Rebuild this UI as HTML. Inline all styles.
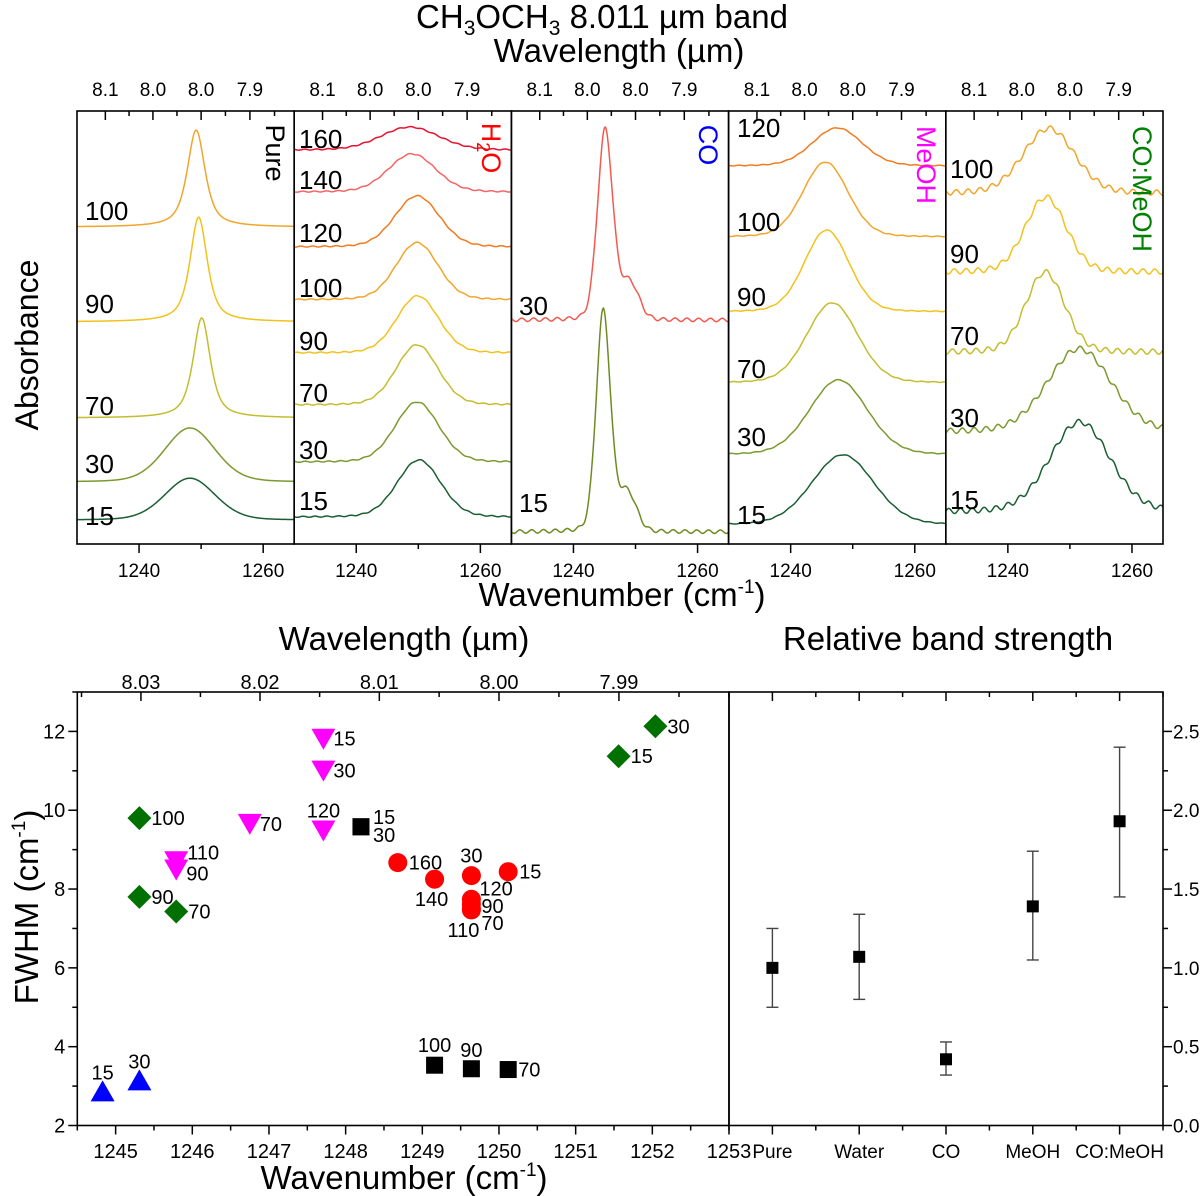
<!DOCTYPE html>
<html><head><meta charset="utf-8">
<style>
html,body{margin:0;padding:0;background:#fff;}
svg{display:block;font-family:"Liberation Sans",Arial,sans-serif;}
</style></head>
<body>
<svg id="fig" xmlns="http://www.w3.org/2000/svg" width="1200" height="1196" viewBox="0 0 1200 1196">
<rect x="0" y="0" width="1200" height="1196" fill="#fff"/>
<text x="602" y="28" font-size="33" text-anchor="middle">CH<tspan font-size="21" dy="7">3</tspan><tspan dy="-7">OCH</tspan><tspan font-size="21" dy="7">3</tspan><tspan dy="-7"> 8.011 µm band</tspan></text>
<text x="619" y="62" font-size="33" text-anchor="middle">Wavelength (µm)</text>
<text x="622" y="606" font-size="33" text-anchor="middle">Wavenumber (cm<tspan font-size="19" dy="-13">-1</tspan><tspan dy="13">)</tspan></text>
<text transform="translate(38,345) rotate(-90)" font-size="32" text-anchor="middle">Absorbance</text>
<text x="404" y="650" font-size="33" text-anchor="middle">Wavelength (µm)</text>
<text x="948" y="650" font-size="33" text-anchor="middle">Relative band strength</text>
<text x="404" y="1189" font-size="33" text-anchor="middle">Wavenumber (cm<tspan font-size="19" dy="-13">-1</tspan><tspan dy="13">)</tspan></text>
<text transform="translate(38,907) rotate(-90)" font-size="33" text-anchor="middle">FWHM (cm<tspan font-size="19" dy="-13">-1</tspan><tspan dy="13">)</tspan></text>
<g id="topPanels"></g>
<g id="bottomPanels"></g>
</svg>
<script>
// ---------- top spectra data ----------
const panelNames = ["Pure", "H2O", "CO", "MeOH", "CO:MeOH"];
const panelLabelColors = ["#000000", "#ff0000", "#0000ff", "#ff00ff", "#008000"];
const wnMin = 1230, wnMax = 1265;
const topTickWn = [1240, 1260];
const topMinorWn = [1250];
const wlMajor = [8.1, 8.05, 8.0, 7.95];
const wlMajorLabels = ["8.1", "8.0", "8.0", "7.9"];
const wlMinor = [8.075, 8.025, 7.975, 7.925];
const pureTemps = ["100", "90", "70", "30", "15"];
const pureBase = [0.732, 0.513, 0.291, 0.143, 0.055];
const pureAmp = [0.224, 0.242, 0.231, 0.125, 0.097];
const pureCenter = [1249.2, 1249.6, 1250.1, 1248.2, 1248.2];
const pureFwhm = [3.4, 3.3, 3.3, 9.6, 9.6];
const pureEta = [0.7, 0.7, 0.7, 0.2, 0.2];
const h2oTemps = ["160", "140", "120", "100", "90", "70", "30", "15"];
const h2oBase = [0.910, 0.813, 0.686, 0.564, 0.441, 0.321, 0.189, 0.062];
const h2oAmp = [0.053, 0.088, 0.118, 0.132, 0.132, 0.139, 0.139, 0.132];
const h2oCenter = [1248.6, 1249.0, 1249.8, 1249.8, 1249.9, 1249.8, 1249.8, 1250.1];
const h2oFwhm = [11, 9, 8.5, 8, 8, 8, 8.3, 8.3];
const coTemps = ["30", "15"];
const coBase = [0.517, 0.028];
const coAmp = [0.44, 0.51];
const coCenter = [1245.1, 1244.8];
const coFwhm = [2.9, 2.7];
const coShoulderAmp = [0.085, 0.09];
const coShoulderCenter = [1249.0, 1248.6];
const meohTemps = ["120", "100", "90", "70", "30", "15"];
const meohBase = [0.873, 0.709, 0.536, 0.372, 0.206, 0.044];
const meohAmp = [0.088, 0.173, 0.189, 0.185, 0.173, 0.162];
const meohCenter = [1247.5, 1245.6, 1245.8, 1246.7, 1247.7, 1248.4];
const meohFwhm = [9.5, 8.6, 8.5, 9.7, 11, 11.8];
const comTemps = ["100", "90", "70", "30", "15"];
const comBase = [0.810, 0.628, 0.443, 0.259, 0.074];
const comAmp = [0.150, 0.173, 0.185, 0.192, 0.208];
const comCenter = [1246.6, 1246.1, 1246.0, 1251.5, 1251.6];
const comFwhm = [9.8, 7.8, 7.4, 12.1, 11.4];

// ---------- bottom data ----------
const pureWn = [1248.2, 1248.2, 1249.16, 1249.64, 1250.12];
const pureFw = [9.58, 9.58, 3.53, 3.44, 3.42];
const pureLbl = ["15", "30", "100", "90", "70"];
const waterWn = [1248.68, 1249.16, 1249.64, 1250.12, 1249.64, 1249.64, 1249.64, 1249.64];
const waterFw = [8.67, 8.25, 8.34, 8.44, 7.74, 7.62, 7.47, 7.5];
const waterLbl = ["160", "140", "30", "15", "120", "90", "70", "110"];
const coWn = [1244.83, 1245.31];
const coFw = [2.84, 3.12];
const coLbl = ["15", "30"];
const meWn = [1247.71, 1247.71, 1246.75, 1247.71, 1245.79, 1245.79];
const meFw = [11.84, 11.03, 9.68, 9.51, 8.73, 8.52];
const meLbl = ["15", "30", "70", "120", "110", "90"];
const cmWn = [1245.31, 1245.31, 1245.79, 1251.56, 1252.04];
const cmFw = [9.8, 7.8, 7.43, 11.37, 12.13];
const cmLbl = ["100", "90", "70", "15", "30"];
const bxMajor = [1245, 1246, 1247, 1248, 1249, 1250, 1251, 1252, 1253];
const byMajor = [2, 4, 6, 8, 10, 12];
const bwlMajor = [8.03, 8.02, 8.01, 8.00, 7.99];
const bwlLabels = ["8.03", "8.02", "8.01", "8.00", "7.99"];
const categories = ["Pure", "Water", "CO", "MeOH", "CO:MeOH"];
const strength = [1.0, 1.07, 0.42, 1.39, 1.93];
const strengthLo = [0.75, 0.80, 0.32, 1.05, 1.45];
const strengthHi = [1.25, 1.34, 0.53, 1.74, 2.40];
const rTicks = [0.0, 0.5, 1.0, 1.5, 2.0, 2.5];
const rTickLabels = ["0.0", "0.5", "1.0", "1.5", "2.0", "2.5"];

// ---------- helpers ----------
const NS = "http://www.w3.org/2000/svg";
function mk(tag, attrs, parent, name) {
  const el = document.createElementNS(NS, tag);
  for (const k in attrs) el.setAttribute(k, attrs[k]);
  
  
  parent.appendChild(el);
  return el;
}
function txt(x, y, s, size, parent, name, anchor, fill) {
  const t = mk("text", {x: x, y: y, "font-size": size, "text-anchor": anchor || "start", fill: fill || "#000"}, parent, name);
  t.textContent = s;
  return t;
}
function ln(x1, y1, x2, y2, parent, name, w, col) {
  return mk("line", {x1: x1, y1: y1, x2: x2, y2: y2, stroke: col || "#000", "stroke-width": w || 1.5}, parent, name);
}

// ---------- top panels ----------
const topG = document.getElementById("topPanels");
const pTop = 111, pBot = 544, pw = 217.2, pL0 = 77;
function pLeft(i) { return pL0 + i * pw; }
function xw(i, wn) { return pLeft(i) + (wn - wnMin) / (wnMax - wnMin) * pw; }
function ya(a) { return pBot - a * (pBot - pTop); }
function pv(wn, c, f, eta) {
  const d = (wn - c) / (f / 2);
  return eta / (1 + d * d) + (1 - eta) * Math.exp(-Math.LN2 * d * d);
}
const tempColors = {"160": "#e8112d", "140": "#f46565", "120": "#f47a20", "110": "#f5a623", "100": "#f2a52a", "90": "#f2c21c", "70": "#c4bd2e", "30": "#7b9a2e", "15": "#1b5e32"};
const panelDefs = [
  {temps: pureTemps, base: pureBase, amp: pureAmp, c: pureCenter, f: pureFwhm, eta: pureEta, noise: 0, lblX: 85, lblY: [220, 313, 415, 473, 525]},
  {temps: h2oTemps, base: h2oBase, amp: h2oAmp, c: h2oCenter, f: h2oFwhm, noise: 0.0012, lblX: 299, lblY: [148, 189, 242, 297, 350, 402, 459, 510]},
  {temps: coTemps, base: coBase, amp: coAmp, c: coCenter, f: coFwhm, noise: 0.004, sa: coShoulderAmp, sc: coShoulderCenter, lblX: 519, lblY: [315, 512]},
  {temps: meohTemps, base: meohBase, amp: meohAmp, c: meohCenter, f: meohFwhm, noise: 0.0008, lblX: 737, lblY: [137, 231, 306, 378, 446, 524]},
  {temps: comTemps, base: comBase, amp: comAmp, c: comCenter, f: comFwhm, noise: 0.006, lblX: 950, lblY: [178, 263, 345, 427, 509]}
];
const coColors = ["#f25a4f", "#6e8b23"];
const labelPos = [[266, 153], [482, 148], [699, 145], [917, 165], [1133, 189]];
panelDefs.forEach((P, i) => {
  const L = pLeft(i);
  const g = mk("g", {}, topG, "panel-" + panelNames[i].toLowerCase().replace(":", "-"));
  P.temps.forEach((t, k) => {
    let d = "";
    for (let wn = wnMin; wn <= wnMax + 1e-6; wn += 0.15) {
      let a = P.base[k] + P.amp[k] * pv(wn, P.c[k], P.f[k], P.eta ? P.eta[k] : 0.15);
      if (P.sa) a += P.sa[k] * pv(wn, P.sc[k], 3.5, 0);
      a += P.noise * Math.sin(wn * 2 * Math.PI / 1.9 + k);
      d += (d ? "L" : "M") + xw(i, wn).toFixed(2) + "," + ya(a).toFixed(2);
    }
    const col = i === 2 ? coColors[k] : tempColors[t];
    mk("path", {d: d, fill: "none", stroke: col, "stroke-width": 1.5}, g, "spectrum-" + t + "K");
    txt(P.lblX, P.lblY[k], t, 26, g, "temp-label-" + t, "start");
  });
  mk("rect", {x: L, y: pTop, width: pw, height: pBot - pTop, fill: "none", stroke: "#000", "stroke-width": 1.6}, g, "panel-frame");
  topTickWn.forEach(w => {
    ln(xw(i, w), pBot, xw(i, w), pBot + 9, g, "x-tick");
    txt(xw(i, w), 577, String(w), 19, g, "x-tick-label", "middle");
  });
  topMinorWn.forEach(w => { ln(xw(i, w), pBot, xw(i, w), pBot + 5, g, "x-minor-tick"); });
  wlMajor.forEach((wl, k) => {
    const x = xw(i, 10000 / wl);
    ln(x, pTop, x, pTop + 9, g, "wavelength-tick");
    txt(x, 96, wlMajorLabels[k], 19, g, "wavelength-tick-label", "middle");
  });
  wlMinor.forEach(wl => { const x = xw(i, 10000 / wl); ln(x, pTop, x, pTop + 5, g, "wavelength-minor-tick"); });
  const lp = labelPos[i];
  const lt = mk("text", {transform: "translate(" + lp[0] + "," + lp[1] + ") rotate(90)", "font-size": 27, "text-anchor": "middle", fill: panelLabelColors[i]}, g, "panel-label");
  if (i === 1) {
    lt.innerHTML = 'H<tspan font-size="18" dy="5">2</tspan><tspan dy="-5">O</tspan>';
  } else {
    lt.textContent = panelNames[i];
  }
});

// ---------- bottom left scatter ----------
const botG = document.getElementById("bottomPanels");
const bL = 77.3, bR = 729, bT = 692, bB = 1125.5;
const bxMin = 1244.5, bxMax = 1253, byMin = 2, byMax = 13;
function bx(w) { return bL + (w - bxMin) / (bxMax - bxMin) * (bR - bL); }
function by(f) { return bB - (f - byMin) / (byMax - byMin) * (bB - bT); }
const gs = mk("g", {}, botG, "fwhm-scatter");
mk("rect", {x: bL, y: bT, width: bR - bL, height: bB - bT, fill: "none", stroke: "#000", "stroke-width": 1.6}, gs, "scatter-frame");
bxMajor.forEach(w => {
  ln(bx(w), bB, bx(w), bB + 9, gs, "x-tick");
  txt(bx(w), 1158, String(w), 20, gs, "x-tick-label", "middle");
});
for (let w = bxMin; w < bxMax; w += 1) { ln(bx(w), bB, bx(w), bB + 5, gs, "x-minor-tick"); }
byMajor.forEach(f => {
  ln(bL - 9, by(f), bL, by(f), gs, "y-tick");
  txt(bL - 12, by(f) + 7, String(f), 20, gs, "y-tick-label", "end");
});
for (let f = 3; f <= 13; f += 2) { ln(bL - 5, by(f), bL, by(f), gs, "y-minor-tick"); }
bwlMajor.forEach((wl, k) => {
  const x = bx(10000 / wl);
  ln(x, bT, x, bT + 9, gs, "wavelength-tick");
  txt(x, 689, bwlLabels[k], 20, gs, "wavelength-tick-label", "middle");
});
[8.035, 8.025, 8.015, 8.005, 7.995, 7.985].forEach(wl => { const x = bx(10000 / wl); ln(x, bT, x, bT + 5, gs, "wavelength-minor-tick"); });

function marker(kind, x, y, parent, name) {
  let el;
  if (kind === "square") el = mk("rect", {x: x - 8.5, y: y - 8.5, width: 17, height: 17, fill: "#000"}, parent, name);
  else if (kind === "circle") el = mk("circle", {cx: x, cy: y, r: 9.5, fill: "#ff0000"}, parent, name);
  else if (kind === "diamond") el = mk("polygon", {points: [x, y - 12, x + 12, y, x, y + 12, x - 12, y].join(" "), fill: "#007000"}, parent, name);
  else if (kind === "up") el = mk("polygon", {points: [x - 12, y + 9, x + 12, y + 9, x, y - 12].join(" "), fill: "#0000ff"}, parent, name);
  else el = mk("polygon", {points: [x - 12, y - 9, x + 12, y - 9, x, y + 12].join(" "), fill: "#ff00ff"}, parent, name);
  return el;
}
const pureOff = [[12, -3, "start"], [12, 15, "start"], [0, -13, "middle"], [0, -12, "middle"], [10, 7, "start"]];
const waterOff = [[11, 7, "start"], [-3, 27, "middle"], [0, -13, "middle"], [11, 7, "start"], [8, -4, "start"], [10, 9, "start"], [10, 20, "start"], [-8, 28, "middle"]];
const coOff = [[0, -13, "middle"], [0, -13, "middle"]];
const meOff = [[10, 8, "start"], [10, 8, "start"], [10, 8, "start"], [0, -12, "middle"], [11, -1, "start"], [10, 12, "start"]];
const cmOff = [[12, 7, "start"], [12, 7, "start"], [12, 7, "start"], [12, 7, "start"], [12, 7, "start"]];
const seriesDefs = [
  {kind: "diamond", wn: cmWn, fw: cmFw, lbl: cmLbl, off: cmOff, name: "co-meoh"},
  {kind: "down", wn: meWn, fw: meFw, lbl: meLbl, off: meOff, name: "meoh"},
  {kind: "circle", wn: waterWn, fw: waterFw, lbl: waterLbl, off: waterOff, name: "water"},
  {kind: "square", wn: pureWn, fw: pureFw, lbl: pureLbl, off: pureOff, name: "pure"},
  {kind: "up", wn: coWn, fw: coFw, lbl: coLbl, off: coOff, name: "co"}
];
seriesDefs.forEach(S => {
  const g = mk("g", {}, gs, "series-" + S.name);
  S.wn.forEach((w, k) => {
    const x = bx(w), y = by(S.fw[k]);
    marker(S.kind, x, y, g, S.name + "-point-" + S.lbl[k]);
    const o = S.off[k];
    txt(x + o[0], y + o[1], S.lbl[k], 20, g, S.name + "-label-" + S.lbl[k], o[2]);
  });
});

// ---------- bottom right strength ----------
const rL = 729, rR = 1163;
const cw = (rR - rL) / categories.length;
function rx(i) { return rL + (i + 0.5) * cw; }
function ry(v) { return bB - v / 2.75 * (bB - bT); }
const gr = mk("g", {}, botG, "band-strength-plot");
mk("rect", {x: rL, y: bT, width: rR - rL, height: bB - bT, fill: "none", stroke: "#000", "stroke-width": 1.6}, gr, "strength-frame");
categories.forEach((c, i) => {
  ln(rx(i), bB, rx(i), bB + 9, gr, "category-tick");
  ln(rx(i), bT, rx(i), bT + 9, gr, "category-top-tick");
  txt(rx(i), 1158, c, 19, gr, "category-label", "middle");
});
for (let k = 0; k <= categories.length; k++) {
  const x = rL + k * cw;
  ln(x, bB, x, bB + 5, gr, "category-minor-tick");
  ln(x, bT, x, bT + 5, gr, "category-top-minor-tick");
}
rTicks.forEach((v, k) => {
  ln(rR, ry(v), rR + 9, ry(v), gr, "right-y-tick");
  txt(rR + 10, ry(v) + 7, rTickLabels[k], 19, gr, "right-y-tick-label", "start");
});
for (let v = 0.25; v < 2.75; v += 0.5) { ln(rR, ry(v), rR + 5, ry(v), gr, "right-y-minor-tick"); }
categories.forEach((c, i) => {
  const x = rx(i);
  ln(x, ry(strengthLo[i]), x, ry(strengthHi[i]), gr, "error-bar-" + c, 1.4, "#444");
  ln(x - 6, ry(strengthLo[i]), x + 6, ry(strengthLo[i]), gr, "error-cap-low-" + c, 1.4, "#444");
  ln(x - 6, ry(strengthHi[i]), x + 6, ry(strengthHi[i]), gr, "error-cap-high-" + c, 1.4, "#444");
  mk("rect", {x: x - 6, y: ry(strength[i]) - 6, width: 12, height: 12, fill: "#000"}, gr, "strength-point-" + c);
});
</script>
</body></html>
